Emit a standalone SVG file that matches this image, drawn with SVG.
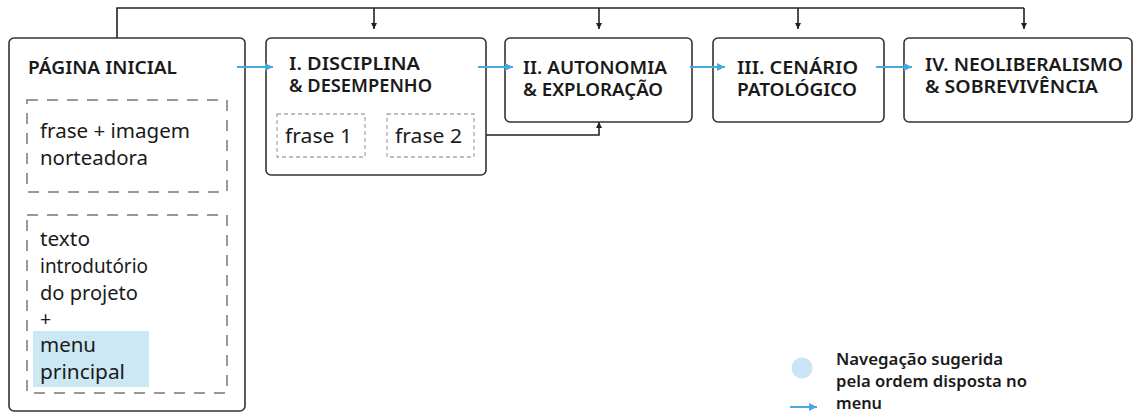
<svg xmlns="http://www.w3.org/2000/svg" width="1134" height="413" viewBox="0 0 1134 413">
<defs>
<style>
.box{fill:#fff;stroke:#333;stroke-width:1.6}
.dash{fill:none;stroke:#999;stroke-width:2;stroke-dasharray:11 9}
.dsm{fill:none;stroke:#aaa;stroke-width:1.3;stroke-dasharray:4 3}
.hd{font-family:"Noto Sans","Open Sans",sans-serif;font-weight:600;font-size:18px;fill:#1a1a1a}
.tx{font-family:"Noto Sans","Open Sans",sans-serif;font-weight:400;font-size:19.5px;fill:#1a1a1a}
.lg{font-family:"Noto Sans","Open Sans",sans-serif;font-weight:600;font-size:15.5px;fill:#1a1a1a}
.blk{fill:none;stroke:#222;stroke-width:1.6}
.blu{fill:none;stroke:#4aa8e0;stroke-width:2}
</style>
<marker id="ab" viewBox="0 0 10 10" refX="10" refY="5" markerWidth="6" markerHeight="6" markerUnits="userSpaceOnUse" orient="auto"><path d="M0,0 L10,5 L0,10 z" fill="#222"/></marker>
<marker id="au" viewBox="0 0 10 10" refX="10" refY="5" markerWidth="8" markerHeight="8" markerUnits="userSpaceOnUse" orient="auto"><path d="M0,0 L10,5 L0,10 z" fill="#4aa8e0"/></marker>
</defs>
<rect width="1134" height="413" fill="#fff"/>

<g id="connectors">
<polyline class="blk" points="117,38 117,8 1024,8"/>
<line class="blk" x1="374" y1="8" x2="374" y2="29" marker-end="url(#ab)"/>
<line class="blk" x1="599" y1="8" x2="599" y2="29" marker-end="url(#ab)"/>
<line class="blk" x1="798" y1="8" x2="798" y2="29" marker-end="url(#ab)"/>
<line class="blk" x1="1024" y1="8" x2="1024" y2="29" marker-end="url(#ab)"/>
<line class="blk" x1="127" y1="192" x2="127" y2="223" marker-end="url(#ab)"/>
<line class="blk" x1="367" y1="135" x2="387" y2="135" marker-end="url(#ab)"/>
<polyline class="blk" points="474,135 599,135 599,122" marker-end="url(#ab)"/>
</g>

<g id="node-pagina">
<rect class="box" x="9" y="38" width="236" height="373" rx="5"/>
<text class="hd" x="28" y="74" textLength="149" lengthAdjust="spacingAndGlyphs">PÁGINA INICIAL</text>
<rect class="dash" x="27" y="100" width="200" height="92"/>
<text class="tx" x="40" y="138" textLength="150" lengthAdjust="spacingAndGlyphs">frase + imagem</text>
<text class="tx" x="40" y="165" textLength="108" lengthAdjust="spacingAndGlyphs">norteadora</text>
<rect class="dash" x="27" y="215" width="200" height="178"/>
<rect x="33" y="331" width="116" height="56" fill="#cde8f5"/>
<text class="tx" x="40" y="246" textLength="50" lengthAdjust="spacingAndGlyphs">texto</text>
<text class="tx" x="40" y="273" textLength="108" lengthAdjust="spacingAndGlyphs">introdutório</text>
<text class="tx" x="40" y="300" textLength="98" lengthAdjust="spacingAndGlyphs">do projeto</text>
<text class="tx" x="40" y="326">+</text>
<text class="tx" x="40" y="352" textLength="56" lengthAdjust="spacingAndGlyphs">menu</text>
<text class="tx" x="40" y="379" textLength="85" lengthAdjust="spacingAndGlyphs">principal</text>
</g>

<g id="node-disciplina">
<rect class="box" x="266" y="38" width="220" height="137" rx="5"/>
<text class="hd" x="289" y="70" textLength="131" lengthAdjust="spacingAndGlyphs">I. DISCIPLINA</text>
<text class="hd" x="289" y="92" textLength="143" lengthAdjust="spacingAndGlyphs">&amp; DESEMPENHO</text>
<rect class="dsm" x="277" y="114" width="88" height="43"/>
<text class="tx" x="285" y="143" textLength="67" lengthAdjust="spacingAndGlyphs">frase 1</text>
<rect class="dsm" x="387" y="114" width="87" height="43"/>
<text class="tx" x="395" y="143" textLength="67" lengthAdjust="spacingAndGlyphs">frase 2</text>
</g>

<g id="node-autonomia">
<rect class="box" x="505" y="38" width="187" height="84" rx="5"/>
<text class="hd" x="523" y="74" textLength="144" lengthAdjust="spacingAndGlyphs">II. AUTONOMIA</text>
<text class="hd" x="523" y="96" textLength="140" lengthAdjust="spacingAndGlyphs">&amp; EXPLORAÇÃO</text>
</g>

<g id="node-cenario">
<rect class="box" x="713" y="38" width="171" height="84" rx="5"/>
<text class="hd" x="737" y="74" textLength="121" lengthAdjust="spacingAndGlyphs">III. CENÁRIO</text>
<text class="hd" x="737" y="96" textLength="120" lengthAdjust="spacingAndGlyphs">PATOLÓGICO</text>
</g>

<g id="node-neoliberalismo">
<rect class="box" x="904" y="38" width="228" height="84" rx="5"/>
<text class="hd" x="925" y="71" textLength="198" lengthAdjust="spacingAndGlyphs">IV. NEOLIBERALISMO</text>
<text class="hd" x="925" y="93" textLength="173" lengthAdjust="spacingAndGlyphs">&amp; SOBREVIVÊNCIA</text>
</g>

<g id="nav-arrows">
<line class="blu" x1="237" y1="67" x2="273" y2="67" marker-end="url(#au)"/>
<line class="blu" x1="478" y1="67" x2="513" y2="67" marker-end="url(#au)"/>
<line class="blu" x1="690" y1="67" x2="725" y2="67" marker-end="url(#au)"/>
<line class="blu" x1="876" y1="67" x2="912" y2="67" marker-end="url(#au)"/>
</g>

<g id="legend">
<circle cx="802" cy="368" r="10.5" fill="#c8e4f5"/>
<line class="blu" x1="790" y1="407" x2="817" y2="407" marker-end="url(#au)"/>
<text class="lg" x="836" y="365" textLength="167" lengthAdjust="spacingAndGlyphs">Navegação sugerida</text>
<text class="lg" x="836" y="387" textLength="191" lengthAdjust="spacingAndGlyphs">pela ordem disposta no</text>
<text class="lg" x="836" y="409" textLength="46" lengthAdjust="spacingAndGlyphs">menu</text>
</g>
</svg>
